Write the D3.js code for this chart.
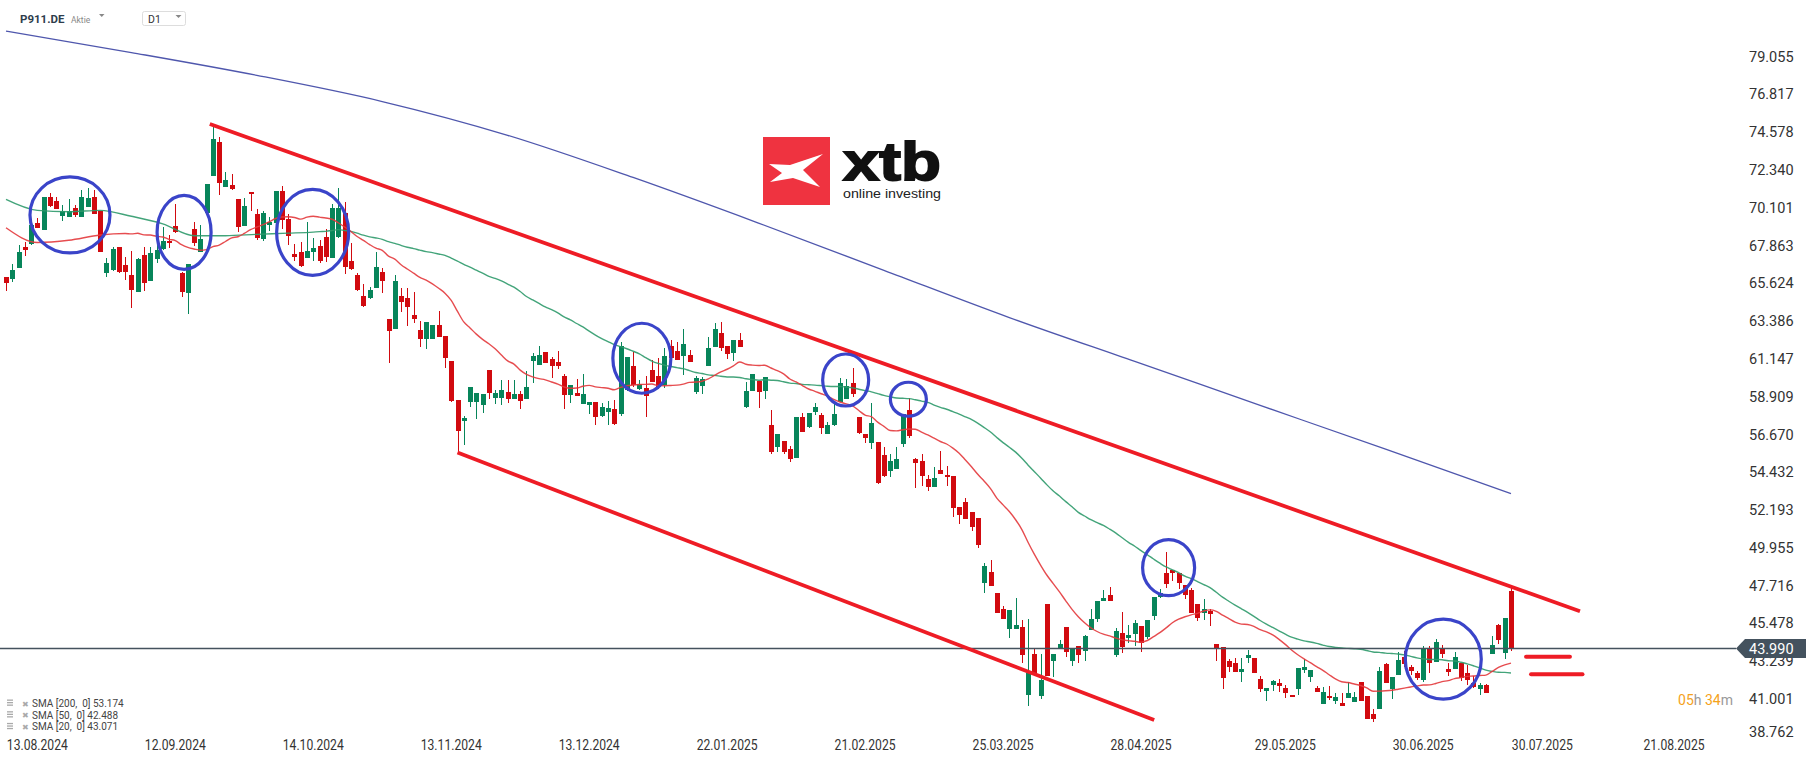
<!DOCTYPE html>
<html>
<head>
<meta charset="utf-8">
<script src="https://cdn.jsdelivr.net/npm/d3@7"></script>
<style>
  html, body { margin: 0; padding: 0; background: #fff; }
  svg { display: block; }
</style>
</head>
<body>
<script>
'use strict'

const width = 1815
const height = 761

// daily candles, 06.08.2024 .. 18.07.2025 (P911.DE, D1)
const opens = [
  66.02, 65.86, 66.56, 67.76, 67.96, 69.22, 68.79, 70.76, 70.51, 69.64,
  69.58, 70.07, 69.58, 70.17, 70.76, 69.93, 66.26, 66.42, 67.76, 66.71,
  66.12, 65.14, 67.31, 65.79, 67.05, 67.64, 68.14, 69.02, 66.22, 65.04,
  68.85, 67.50, 69.78, 72.01, 74.00, 71.35, 71.45, 70.62, 69.04, 71.06,
  69.71, 68.24, 69.08, 69.18, 71.10, 69.42, 67.37, 67.47, 67.11, 67.50,
  67.84, 68.35, 67.15, 68.39, 69.78, 66.95, 66.12, 64.88, 64.74, 65.33,
  66.28, 63.52, 62.94, 64.88, 64.74, 63.75, 62.86, 62.35, 62.35, 63.16,
  62.51, 61.05, 58.72, 57.49, 58.62, 58.62, 58.42, 60.49, 58.82, 58.82,
  59.17, 58.76, 59.07, 58.76, 61.03, 60.79, 61.56, 61.15, 60.97, 60.14,
  59.01, 59.15, 58.48, 58.42, 58.58, 57.77, 58.03, 58.18, 57.89, 59.31,
  60.73, 59.35, 59.45, 60.49, 60.14, 59.61, 61.92, 61.62, 61.32, 61.38,
  59.21, 59.55, 60.75, 61.88, 62.67, 61.92, 61.52, 62.27, 58.28, 59.25,
  59.84, 59.27, 57.24, 55.95, 56.29, 55.79, 55.26, 57.69, 57.14, 58.03,
  57.83, 56.68, 57.24, 58.62, 58.78, 59.74, 57.69, 56.68, 56.19, 56.21,
  55.46, 54.51, 54.63, 56.11, 58.12, 55.20, 55.10, 54.04, 53.54, 54.57,
  54.27, 54.23, 52.40, 52.69, 52.10, 51.71, 47.86, 48.51, 47.30, 46.34,
  45.13, 45.13, 45.29, 41.24, 43.65, 41.18, 46.63, 43.27, 43.96, 45.25,
  43.27, 44.14, 43.87, 45.09, 45.74, 46.83, 47.16, 43.61, 44.89, 44.64,
  44.84, 45.33, 44.70, 45.94, 47.03, 48.45, 48.65, 48.45, 47.76, 47.46,
  46.61, 46.12, 46.22, 44.24, 44.10, 43.25, 43.12, 42.62, 43.45, 43.45,
  42.17, 41.50, 41.83, 41.97, 41.64, 41.24, 41.60, 42.72, 42.33, 41.68,
  40.69, 41.18, 40.91, 40.75, 41.04, 40.85, 41.99, 41.18, 40.12, 40.41,
  43.07, 41.58, 42.43, 43.51, 42.92, 42.53, 42.13, 43.95, 43.22, 43.95,
  42.78, 42.76, 43.12, 42.53, 41.97, 41.60, 41.84, 43.67, 45.39, 43.75,
  47.40
]
const highs = [
  66.02, 66.77, 67.90, 68.10, 69.09, 69.52, 70.76, 71.00, 70.72, 70.27,
  70.62, 70.27, 71.16, 71.30, 71.16, 69.93, 67.11, 67.76, 67.76, 67.21,
  67.54, 67.15, 67.76, 67.80, 68.20, 68.95, 68.49, 70.33, 66.32, 66.75,
  69.28, 69.09, 71.51, 75.00, 74.30, 72.24, 72.11, 70.62, 70.66, 71.06,
  70.01, 69.91, 69.58, 71.10, 71.40, 69.71, 67.96, 68.06, 69.24, 68.33,
  68.19, 68.85, 70.31, 71.26, 70.43, 68.00, 66.22, 65.59, 65.43, 67.47,
  66.54, 63.52, 66.12, 65.33, 65.37, 65.12, 63.40, 63.34, 63.16, 63.99,
  62.51, 61.05, 58.72, 57.77, 59.47, 59.11, 59.07, 60.49, 59.31, 59.90,
  59.90, 59.90, 59.27, 60.43, 61.52, 61.92, 61.56, 61.28, 61.62, 60.26,
  59.61, 59.96, 60.26, 58.62, 58.58, 58.56, 58.68, 58.72, 62.17, 61.28,
  61.58, 59.90, 60.14, 61.09, 61.19, 61.78, 62.27, 62.13, 62.90, 61.68,
  60.14, 60.10, 62.43, 63.30, 63.32, 61.92, 62.27, 62.71, 59.80, 60.26,
  59.84, 60.06, 58.12, 56.68, 56.29, 56.01, 57.73, 57.93, 57.93, 58.52,
  57.93, 57.43, 58.52, 60.00, 59.94, 60.59, 57.69, 56.68, 58.56, 56.21,
  55.95, 55.50, 55.95, 57.89, 58.81, 55.30, 55.50, 54.27, 54.77, 55.69,
  54.81, 54.23, 52.40, 52.89, 52.10, 51.71, 49.04, 49.24, 47.30, 46.53,
  46.28, 47.01, 45.68, 45.72, 43.95, 43.65, 46.63, 43.65, 44.50, 45.25,
  44.00, 44.14, 44.80, 46.33, 46.81, 47.46, 47.66, 45.19, 46.18, 45.39,
  45.68, 45.33, 45.68, 47.03, 47.50, 49.73, 48.65, 48.45, 47.76, 47.56,
  46.61, 46.91, 46.32, 44.24, 44.10, 43.37, 43.41, 43.45, 43.91, 43.45,
  42.37, 41.68, 42.13, 42.17, 41.83, 41.24, 42.86, 43.35, 42.72, 41.78,
  41.74, 41.78, 41.38, 41.34, 42.03, 41.40, 41.99, 41.18, 40.41, 42.88,
  43.12, 42.33, 43.77, 43.87, 43.02, 42.66, 44.14, 44.14, 44.54, 44.20,
  43.12, 43.81, 43.16, 43.02, 42.37, 41.97, 41.90, 44.74, 45.45, 45.82,
  47.66
]
const lows = [
  65.20, 65.73, 66.56, 67.27, 67.90, 68.89, 68.79, 70.17, 70.05, 69.34,
  69.58, 69.58, 69.58, 70.17, 69.74, 67.50, 66.02, 66.36, 66.26, 65.83,
  64.19, 65.14, 65.17, 65.79, 66.85, 67.60, 67.70, 68.63, 64.84, 63.79,
  67.84, 67.50, 69.78, 72.01, 70.88, 71.35, 71.16, 68.69, 69.04, 69.93,
  68.19, 68.14, 68.75, 69.18, 68.83, 67.90, 66.97, 66.62, 67.11, 66.95,
  66.81, 66.87, 67.15, 68.33, 66.16, 66.42, 65.19, 64.25, 64.68, 65.33,
  65.08, 60.93, 62.94, 63.95, 63.12, 63.30, 61.88, 61.72, 62.35, 62.47,
  60.59, 58.62, 55.72, 56.05, 58.32, 57.57, 57.93, 58.76, 58.48, 58.42,
  58.56, 58.76, 58.20, 58.76, 59.74, 60.79, 60.93, 60.04, 60.55, 58.18,
  58.56, 58.97, 58.48, 57.87, 57.24, 57.73, 57.24, 57.24, 57.77, 59.25,
  59.51, 59.31, 57.73, 59.80, 59.35, 59.41, 61.09, 61.09, 60.20, 60.95,
  59.05, 59.05, 60.75, 61.88, 61.64, 61.13, 61.05, 61.84, 58.22, 59.25,
  58.22, 58.80, 55.52, 55.66, 55.52, 55.06, 55.26, 56.84, 57.08, 57.83,
  56.68, 56.68, 57.18, 58.62, 58.78, 58.91, 56.68, 56.19, 55.79, 53.72,
  54.17, 54.17, 54.63, 55.95, 56.45, 53.52, 53.64, 53.35, 53.54, 54.33,
  53.64, 51.81, 51.35, 51.67, 50.98, 49.97, 47.26, 47.72, 46.12, 45.74,
  44.60, 45.13, 43.12, 40.59, 42.52, 40.98, 42.39, 42.29, 43.96, 43.47,
  42.98, 43.12, 43.27, 45.09, 45.58, 46.83, 46.83, 43.47, 43.75, 44.30,
  44.14, 43.81, 44.54, 45.68, 46.97, 47.56, 48.01, 47.50, 46.91, 46.12,
  45.64, 45.68, 45.33, 43.27, 41.60, 42.62, 42.62, 42.03, 43.12, 42.56,
  41.44, 40.91, 41.48, 41.44, 41.04, 41.10, 41.24, 42.53, 42.03, 41.44,
  40.69, 40.95, 40.69, 40.61, 41.04, 40.85, 40.91, 39.82, 39.66, 40.41,
  41.97, 41.00, 42.43, 42.92, 42.43, 42.13, 42.03, 42.56, 43.22, 43.41,
  42.39, 42.76, 42.09, 41.83, 41.64, 41.24, 41.34, 43.67, 44.26, 43.37,
  43.87
]
const closes = [
  65.63, 66.42, 67.49, 67.60, 69.09, 68.93, 70.76, 70.21, 70.05, 69.93,
  69.93, 69.68, 70.76, 70.70, 69.74, 67.50, 66.85, 67.66, 66.32, 66.32,
  65.23, 67.07, 65.63, 67.40, 67.60, 68.14, 68.00, 68.69, 65.14, 66.75,
  68.04, 68.24, 71.51, 74.20, 71.59, 71.75, 71.20, 68.95, 70.21, 70.90,
  68.29, 69.77, 69.28, 71.10, 69.38, 68.43, 67.21, 66.68, 67.55, 67.74,
  66.97, 67.21, 70.07, 70.07, 66.58, 66.46, 65.23, 64.31, 65.21, 66.62,
  65.79, 62.83, 65.77, 64.54, 64.25, 63.52, 62.33, 63.34, 63.16, 62.47,
  61.19, 58.66, 56.90, 57.67, 59.47, 59.11, 59.07, 59.11, 59.15, 59.31,
  58.76, 59.05, 58.68, 59.49, 61.32, 61.38, 60.93, 60.75, 60.75, 59.01,
  59.61, 58.97, 59.07, 58.62, 57.73, 58.28, 58.26, 57.30, 61.92, 61.28,
  59.61, 59.66, 58.95, 59.80, 59.47, 61.32, 61.22, 61.09, 62.03, 60.99,
  60.00, 59.94, 61.78, 62.92, 61.78, 61.44, 62.27, 61.84, 59.25, 60.26,
  59.17, 60.06, 55.62, 56.68, 55.66, 55.20, 57.73, 56.84, 57.93, 58.28,
  57.08, 57.24, 57.89, 59.71, 59.55, 59.07, 56.78, 56.49, 57.34, 53.78,
  54.21, 55.10, 55.22, 57.89, 56.61, 55.00, 54.23, 53.54, 54.08, 54.33,
  54.13, 52.34, 51.91, 51.67, 51.21, 50.13, 48.88, 47.72, 46.12, 45.74,
  46.28, 45.39, 43.61, 42.52, 42.52, 42.13, 42.39, 43.65, 44.26, 43.77,
  44.00, 43.61, 44.74, 45.74, 46.81, 46.97, 46.83, 45.05, 44.10, 44.80,
  45.49, 44.30, 45.68, 47.03, 47.26, 47.80, 48.45, 47.86, 47.16, 46.12,
  45.78, 46.32, 46.04, 44.04, 42.23, 42.92, 42.62, 42.78, 43.61, 42.56,
  41.60, 41.68, 42.07, 41.79, 41.34, 41.10, 42.86, 42.92, 42.72, 41.44,
  41.40, 41.04, 41.14, 40.61, 41.34, 41.14, 40.91, 39.82, 39.82, 42.66,
  41.97, 42.33, 43.31, 43.07, 42.66, 42.23, 44.01, 43.12, 44.40, 43.65,
  42.59, 43.47, 42.23, 42.13, 41.70, 41.84, 41.34, 44.20, 44.50, 45.82,
  43.99
]

// moving averages before a full window is on screen (every 5 bars)
const sma20Lead = [68.92, 68.05, 68.18, 68.49]
const sma50Lead = [70.60, 69.95, 69.87, 69.95, 69.60, 69.15, 68.45, 68.45, 68.53, 68.60]
// SMA 200, read every 20 bars
const sma200 = [80.57, 79.30, 77.95, 76.40, 74.40, 71.90, 69.20, 66.40, 63.60, 61.00, 58.40, 55.80, 53.17]

const priceTicks = ['79.055', '76.817', '74.578', '72.340', '70.101', '67.863', '65.624', '63.386',
  '61.147', '58.909', '56.670', '54.432', '52.193', '49.955', '47.716', '45.478', '43.239', '41.001', '38.762']
const dateLabels = ['13.08.2024', '12.09.2024', '14.10.2024', '13.11.2024', '13.12.2024', '22.01.2025',
  '21.02.2025', '25.03.2025', '28.04.2025', '29.05.2025', '30.06.2025', '30.07.2025', '21.08.2025']
const dateBars = [5, 27, 49, 71, 93, 115, 137, 159, 181, 204, 226, 245, 266]

const legendRows = [
  ['SMA [200,  0]', '53.174'],
  ['SMA [50,  0]', '42.488'],
  ['SMA [20,  0]', '43.071']
]
const lastPrice = 43.990

const green = '#07855a'
const red = '#d10a0f'

const svg = d3.select('body').append('svg')
  .attr('width', width)
  .attr('height', height)
  .style('font-family', 'Roboto, sans-serif')

const x = d3.scaleLinear().domain([0, 240]).range([6, 1511])
const y = d3.scaleLinear().domain([38.762, 79.055]).range([736.8, 56.7])

// logo
const logo = svg.append('g').attr('transform', 'translate(763,137)')
logo.append('rect').attr('width', 67).attr('height', 68).attr('fill', '#ef3340')
logo.append('polygon')
  .attr('points', '6,27 27,28 60,17 40,33 57,50 30,41 7,45 19,36')
  .attr('fill', '#fff')
logo.append('text')
  .attr('x', 80).attr('y', 43)
  .attr('font-family', 'Liberation Sans, Arial, sans-serif')
  .attr('font-weight', 700)
  .attr('font-size', 54)
  .attr('stroke', '#111').attr('stroke-width', 1.8)
  .attr('textLength', 98).attr('lengthAdjust', 'spacingAndGlyphs')
  .attr('fill', '#111')
  .text('xtb')
logo.append('text')
  .attr('x', 80).attr('y', 61)
  .attr('font-family', 'Liberation Sans, Arial, sans-serif')
  .attr('font-size', 13)
  .attr('textLength', 98).attr('lengthAdjust', 'spacingAndGlyphs')
  .attr('fill', '#222')
  .text('online investing')

// moving averages
const sma = (n, lead) => {
  const pts = lead.map((v, k) => [k * 5, v])
  for (let i = n - 1; i < closes.length; i++) {
    pts.push([i, d3.mean(closes.slice(i - n + 1, i + 1))])
  }
  return pts
}
const line = d3.line()
  .x(d => x(d[0]))
  .y(d => y(d[1]))
  .curve(d3.curveMonotoneX)

svg.append('path')
  .datum(sma200.map((v, k) => [k * 20, v]))
  .attr('d', line)
  .attr('fill', 'none')
  .attr('stroke', '#4f57ad')
  .attr('stroke-width', 1.3)

// candles
const bars = closes.map((c, i) => ({ i, o: opens[i], h: highs[i], l: lows[i], c }))
const candle = svg.append('g')
  .attr('shape-rendering', 'crispEdges')
  .selectAll('g')
  .data(bars)
  .enter()
  .append('g')
  .attr('fill', d => d.c >= d.o ? green : red)
  .attr('stroke', d => d.c >= d.o ? green : red)

candle.append('line')
  .attr('x1', d => Math.round(x(d.i)) + 0.5)
  .attr('x2', d => Math.round(x(d.i)) + 0.5)
  .attr('y1', d => y(d.h))
  .attr('y2', d => y(d.l))
  .attr('stroke-width', 1)

candle.append('rect')
  .attr('x', d => Math.round(x(d.i)) - 2)
  .attr('width', 5)
  .attr('y', d => y(Math.max(d.o, d.c)))
  .attr('height', d => Math.max(1, Math.abs(y(d.o) - y(d.c))))
  .attr('stroke', 'none')

svg.append('path')
  .datum(sma(50, sma50Lead))
  .attr('d', line)
  .attr('fill', 'none')
  .attr('stroke', '#2f9a6c')
  .attr('stroke-opacity', 0.9)
  .attr('stroke-width', 1.4)

svg.append('path')
  .datum(sma(20, sma20Lead))
  .attr('d', line)
  .attr('fill', 'none')
  .attr('stroke', '#e3393c')
  .attr('stroke-opacity', 0.9)
  .attr('stroke-width', 1.4)

// last price line
svg.append('line')
  .attr('x1', 0).attr('x2', 1736)
  .attr('y1', y(lastPrice)).attr('y2', y(lastPrice))
  .attr('stroke', '#44525e')
  .attr('stroke-width', 1.5)

// drawn trend channel
const channel = [
  [[32.5, 75.07], [251, 46.20]],
  [[72, 55.60], [183.1, 39.76]]
]
svg.append('g').selectAll('line')
  .data(channel)
  .enter()
  .append('line')
  .attr('x1', d => x(d[0][0])).attr('y1', d => y(d[0][1]))
  .attr('x2', d => x(d[1][0])).attr('y2', d => y(d[1][1]))
  .attr('stroke', '#ee1c25')
  .attr('stroke-width', 3.8)

const marks = [
  [[242.4, 43.51], [249.4, 43.51]],
  [[243.2, 42.47], [251.4, 42.47]]
]
svg.append('g').selectAll('line')
  .data(marks)
  .enter()
  .append('line')
  .attr('x1', d => x(d[0][0])).attr('y1', d => y(d[0][1]))
  .attr('x2', d => x(d[1][0])).attr('y2', d => y(d[1][1]))
  .attr('stroke', '#ee1c25')
  .attr('stroke-width', 4)
  .attr('stroke-linecap', 'round')

// highlighted spots: bar, price, rx, ry
const circles = [
  [10.2, 69.68, 40, 38],
  [28.4, 68.65, 27, 37],
  [48.9, 68.65, 36, 43],
  [101.4, 61.19, 29, 35],
  [133.9, 59.90, 23, 26],
  [143.9, 58.76, 18, 17],
  [185.4, 48.78, 26, 28],
  [229.2, 43.36, 38, 40]
]
svg.append('g').selectAll('ellipse')
  .data(circles)
  .enter()
  .append('ellipse')
  .attr('cx', d => x(d[0]))
  .attr('cy', d => y(d[1]))
  .attr('rx', d => d[2])
  .attr('ry', d => d[3])
  .attr('fill', 'none')
  .attr('stroke', '#3a44c9')
  .attr('stroke-width', 3.2)

// price axis
svg.append('g').selectAll('text')
  .data(priceTicks)
  .enter()
  .append('text')
  .attr('x', 1749)
  .attr('y', d => Math.min(y(+d), 731.5) + 5)
  .attr('font-size', 14.5)
  .attr('fill', '#333')
  .text(d => d)

const tag = svg.append('g')
const ty = y(lastPrice)
tag.append('polygon')
  .attr('points', [[1736, ty], [1745, ty - 9.5], [1806, ty - 9.5], [1806, ty + 9.5], [1745, ty + 9.5]].join(' '))
  .attr('fill', '#44525e')
tag.append('text')
  .attr('x', 1749).attr('y', ty + 5)
  .attr('font-size', 14.5)
  .attr('fill', '#fff')
  .text(lastPrice.toFixed(3))

// date axis
svg.append('g').selectAll('text')
  .data(dateLabels)
  .enter()
  .append('text')
  .attr('x', (d, k) => x(dateBars[k]))
  .attr('y', 750)
  .attr('text-anchor', 'middle')
  .attr('font-size', 15)
  .attr('textLength', 61)
  .attr('lengthAdjust', 'spacingAndGlyphs')
  .attr('fill', '#333')
  .text(d => d)

// countdown
const cd = svg.append('text')
  .attr('x', 1733).attr('y', 705)
  .attr('text-anchor', 'end')
  .attr('font-size', 14)
cd.append('tspan').attr('fill', '#f5a21b').text('05')
cd.append('tspan').attr('fill', '#999').text('h ')
cd.append('tspan').attr('fill', '#f5a21b').text('34')
cd.append('tspan').attr('fill', '#999').text('m')

// legend
const leg = svg.append('g').selectAll('g')
  .data(legendRows)
  .enter()
  .append('g')
  .attr('transform', (d, k) => 'translate(0,' + (703 + k * 11.7) + ')')
leg.append('rect').attr('x', 7).attr('y', -3.5).attr('width', 6).attr('height', 1.3).attr('fill', '#aaa')
leg.append('rect').attr('x', 7).attr('y', -1).attr('width', 6).attr('height', 1.3).attr('fill', '#aaa')
leg.append('rect').attr('x', 7).attr('y', 1.5).attr('width', 6).attr('height', 1.3).attr('fill', '#aaa')
leg.append('text')
  .attr('x', 22).attr('y', 3.5)
  .attr('font-size', 8)
  .attr('fill', '#aaa')
  .text('✖')
leg.append('text')
  .attr('x', 32).attr('y', 4)
  .attr('font-size', 10)
  .attr('fill', '#444')
  .attr('xml:space', 'preserve')
  .style('white-space', 'pre')
  .text(d => d[0] + ' ' + d[1])

// header
svg.append('text')
  .attr('x', 20).attr('y', 22.7)
  .attr('font-size', 11.5).attr('font-weight', 700)
  .attr('fill', '#2e3d4c')
  .text('P911.DE')
svg.append('text')
  .attr('x', 71).attr('y', 22.7)
  .attr('font-size', 8.5)
  .attr('fill', '#888')
  .text('Aktie')
svg.append('polygon').attr('points', '99,14 104.5,14 101.75,17').attr('fill', '#888')
svg.append('rect')
  .attr('x', 142.5).attr('y', 11.5).attr('width', 43).attr('height', 14).attr('rx', 2)
  .attr('fill', '#fff').attr('stroke', '#ddd')
svg.append('text')
  .attr('x', 148).attr('y', 23)
  .attr('font-size', 10.5)
  .attr('fill', '#333')
  .text('D1')
svg.append('polygon').attr('points', '175.5,15 181.5,15 178.5,18').attr('fill', '#888')
</script>
</body>
</html>
